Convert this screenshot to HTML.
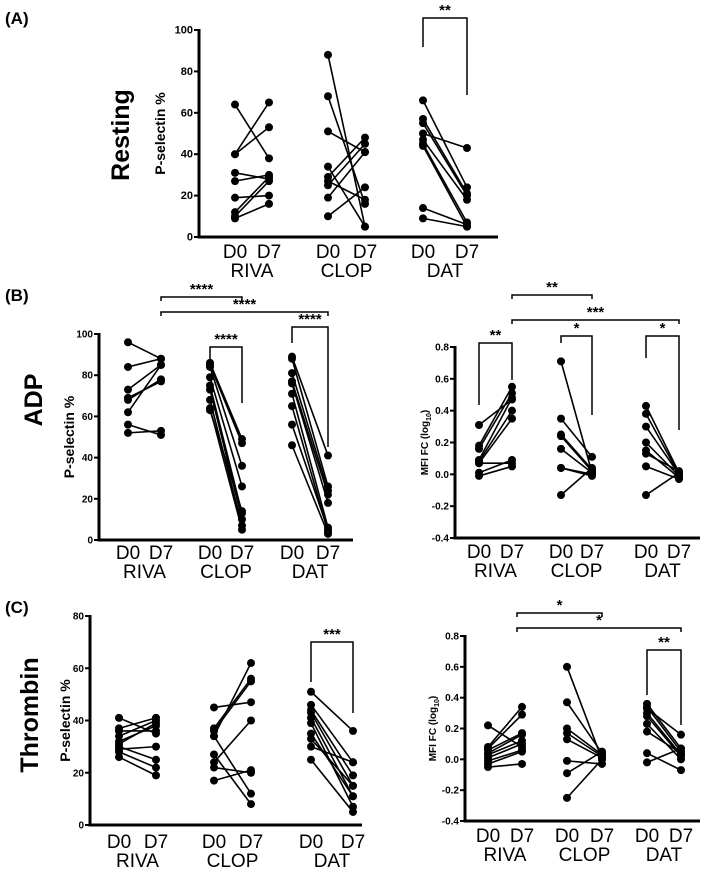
<!DOCTYPE html>
<html><head><meta charset="utf-8"><style>
html,body{margin:0;padding:0;background:#fff}
svg{display:block;font-family:"Liberation Sans",Arial,sans-serif}
</style></head><body>
<svg id="fig" width="709" height="875" viewBox="0 0 709 875" xmlns="http://www.w3.org/2000/svg">
<text x="5" y="24" font-size="17" font-weight="bold">(A)</text>
<text x="5" y="301" font-size="17" font-weight="bold">(B)</text>
<text x="5" y="613" font-size="17" font-weight="bold">(C)</text>
<text transform="translate(129,135) rotate(-90)" text-anchor="middle" font-size="25" font-weight="bold">Resting</text>
<text transform="translate(42,400) rotate(-90)" text-anchor="middle" font-size="25" font-weight="bold">ADP</text>
<text transform="translate(38,715) rotate(-90)" text-anchor="middle" font-size="25" font-weight="bold">Thrombin</text>
</svg>
<script>
const groups = ["RIVA","CLOP","DAT"];
const aTicks = [0,20,40,60,80,100];
const aD0 = [[64,40,40,31,27,19,12,10,9],[88,68,51,34,29,27,25,19,10],[66,57,55,50,47,45,44,14,9]];
const aD7 = [[38,65,53,28,30,20,29,27,16],[5,16,41,5,48,18,45,41,24],[24,21,20,43,18,7,5,6,5]];
const bLTicks = [0,20,40,60,80,100];
const bLD0 = [[96,84,73,69,68,62,56,52],[86,85,84,79,75,73,68,64,63],[89,88,81,77,76,71,65,56,46]];
const bLD7 = [[88,88,85,77,78,85,51,53],[49,47,36,26,13,10,7,5,14],[41,26,24,22,18,6,4,5,3]];
const bRTicks = ["-0.4","-0.2","0.0","0.2","0.4","0.6","0.8"];
const bRD0 = [[0.31,0.18,0.16,0.09,0.08,0.07,0.07,0.01,-0.01],[0.71,0.35,0.25,0.24,0.16,0.04,0.04,-0.13],[0.43,0.38,0.30,0.20,0.15,0.13,0.05,-0.13]];
const bRD7 = [[0.47,0.55,0.51,0.48,0.40,0.35,0.07,0.09,0.05],[0.01,0.11,0.03,0.02,0.01,0.00,-0.01,0.04],[0.01,0.00,0.00,-0.01,-0.02,0.02,-0.03,0.01]];
const cLTicks = [0,20,40,60,80];
const cLD0 = [[41,37,36,34,32,31,30,29,28,26],[45,37,36,34,34,27,24,22,17],[51,46,44,43,41,39,35,33,30,25]];
const cLD7 = [[35,41,36,40,38,39,25,30,22,19],[47,56,55,62,12,8,40,20,21],[36,24,19,15,11,7,11,15,24,5]];
const cRTicks = ["-0.4","-0.2","0.0","0.2","0.4","0.6","0.8"];
const cRD0 = [[0.22,0.08,0.07,0.06,0.04,0.03,0.01,-0.01,-0.03,-0.05],[0.60,0.37,0.20,0.17,0.13,-0.01,-0.09,-0.25],[0.36,0.34,0.33,0.30,0.28,0.23,0.18,0.04,-0.02]];
const cRD7 = [[0.08,0.34,0.29,0.17,0.16,0.12,0.10,0.06,0.05,-0.03],[0.00,0.04,0.03,0.02,0.01,-0.03,0.05,0.00],[0.07,0.05,0.16,0.03,0.02,0.00,0.04,-0.07,0.07]];

const NS="http://www.w3.org/2000/svg";
const svg=document.getElementById('fig');
function mk(tag,attrs,parent){const e=document.createElementNS(NS,tag);for(const k in attrs)e.setAttribute(k,attrs[k]);(parent||svg).appendChild(e);return e;}

function panel(id,cfg,ticks,d0,d7){
  const g=mk('g',{});
  
  
  const tv=ticks.map(Number);
  const vmin=tv[0], vmax=tv[tv.length-1];
  const y=v=>cfg.y0+(v-vmin)/(vmax-vmin)*(cfg.y1-cfg.y0);
  groups.forEach((gn,gi)=>{
    const xa=cfg.xs[gi][0], xb=cfg.xs[gi][1];
    d0[gi].forEach((v,i)=>{
      const l=mk('line',{x1:xa,y1:y(v),x2:xb,y2:y(d7[gi][i]),stroke:'#000','stroke-width':1.6},g);
      
      
      const c0=mk('circle',{cx:xa,cy:y(v),r:cfg.r,fill:'#000'},g);
      
      
      const c1=mk('circle',{cx:xb,cy:y(d7[gi][i]),r:cfg.r,fill:'#000'},g);
      
      
    });
    const t0=mk('text',{x:xa,y:cfg.ly,'text-anchor':'middle','font-size':19},g);t0.textContent='D0';
    
    
    const t1=mk('text',{x:xb,y:cfg.ly,'text-anchor':'middle','font-size':19},g);t1.textContent='D7';
    
    
    const tg=mk('text',{x:(xa+xb)/2,y:cfg.ly+19,'text-anchor':'middle','font-size':19},g);tg.textContent=gn;
    
    
  });
  const ya=mk('line',{x1:cfg.ax,y1:cfg.y1-1,x2:cfg.ax,y2:cfg.y0+1.5,stroke:'#000','stroke-width':3},g);
  
  
  const xa=mk('line',{x1:cfg.ax-1.5,y1:cfg.y0,x2:cfg.xend,y2:cfg.y0,stroke:'#000','stroke-width':3},g);
  
  
  ticks.forEach(t=>{
    const yy=y(Number(t));
    mk('line',{x1:cfg.ax-5,y1:yy,x2:cfg.ax,y2:yy,stroke:'#000','stroke-width':2},g);
    const tl=mk('text',{x:cfg.ax-6,y:yy+3.5,'text-anchor':'end','font-size':cfg.tfs,'font-weight':'bold'},g);
    tl.textContent=t;
    
    
  });
  const yt=mk('text',{transform:`translate(${cfg.tx},${(cfg.y0+cfg.y1)/2}) rotate(-90)`,'text-anchor':'middle','font-size':cfg.tsz,'font-weight':'bold'},g);
  if(cfg.log){yt.textContent='MFI FC (log';const s=mk('tspan',{'font-size':cfg.tsz*0.7,dy:3},yt);s.textContent='10';const s2=mk('tspan',{dy:-3},yt);s2.textContent=')';}
  else yt.textContent='P-selectin %';
  
  
  (cfg.br||[]).forEach(b=>{
    const p=mk('path',{d:`M${b[0]} ${b[3]} V${b[2]} H${b[1]} V${b[4]}`,fill:'none',stroke:'#000','stroke-width':1.5},g);
    
    
    const s=mk('text',{x:(b[0]+b[1])/2,y:b[2]-3,'text-anchor':'middle','font-size':15,'font-weight':'bold'},g);
    s.textContent=b[5];
    
    
  });
}

panel('resting',{ax:199,y0:237,y1:30,xend:498,xs:[[235,269],[328,365],[423,467]],ly:258,r:4,tfs:11,tx:165,tsz:14,
  br:[[423,467,18,47,95,'**']]},aTicks,aD0,aD7);
panel('adp-pselectin',{ax:99,y0:540,y1:334,xend:353,xs:[[128,161],[210,242],[292,328]],ly:559,r:4,tfs:10,tx:74,tsz:14,
  br:[[161,242,297,301,301,'****'],[161,328,312,316,316,'****'],[210,242,347,359,403,'****'],[292,328,327,343,447,'****']]},bLTicks,bLD0,bLD7);
panel('adp-mfi',{ax:455,y0:538,y1:347,xend:700,xs:[[479,512],[561,592],[646,679]],ly:558,r:4,tfs:10,tx:428,tsz:10,log:true,
  br:[[512,592,295,299,299,'**'],[512,679,320,324,324,'***'],[479,512,343,405,380,'**'],[561,592,336,343,415,'*'],[646,679,336,358,430,'*']]},bRTicks,bRD0,bRD7);
panel('thrombin-pselectin',{ax:90,y0:825,y1:616,xend:362,xs:[[119,156],[214,251],[311,353]],ly:848,r:4,tfs:10,tx:70,tsz:14,
  br:[[311,353,642,682,713,'***']]},cLTicks,cLD0,cLD7);
panel('thrombin-mfi',{ax:465,y0:821,y1:636,xend:700,xs:[[488,522],[567,602],[647,681]],ly:842,r:4,tfs:10,tx:436,tsz:10,log:true,
  br:[[517,602,613,617,617,'*'],[517,681,628,632,632,'*'],[647,681,650,695,725,'**']]},cRTicks,cRD0,cRD7);
</script>
</body></html>
